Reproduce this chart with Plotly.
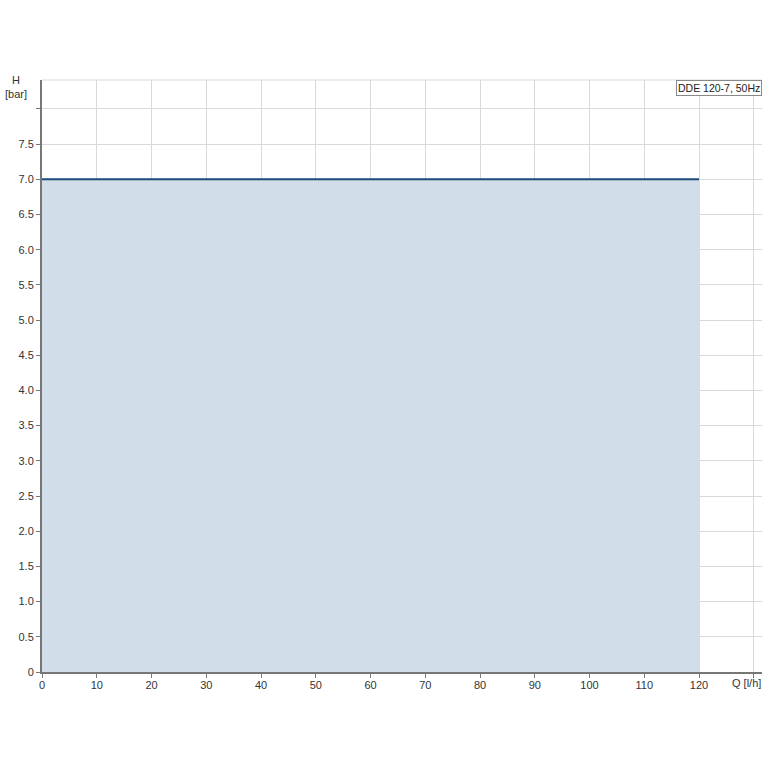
import plotly.graph_objects as go

# pump curve: flow Q [l/h] vs pressure H [bar]
flow_lh = [0, 120]
head_bar = [7.0, 7.0]
series_name = "DDE 120-7, 50Hz"

x_tick_vals = [0, 10, 20, 30, 40, 50, 60, 70, 80, 90, 100, 110, 120, 130]
x_tick_text = ["0", "10", "20", "30", "40", "50", "60", "70", "80", "90",
               "100", "110", "120", ""]
y_tick_vals = [0, 0.5, 1.0, 1.5, 2.0, 2.5, 3.0, 3.5, 4.0, 4.5, 5.0, 5.5,
               6.0, 6.5, 7.0, 7.5, 8.0]
y_tick_text = ["0", "0.5", "1.0", "1.5", "2.0", "2.5", "3.0", "3.5", "4.0",
               "4.5", "5.0", "5.5", "6.0", "6.5", "7.0", "7.5", ""]
x_unit_label = "Q [l/h]"
y_unit_label = "H<br>[bar]"

fig = go.Figure()
fig.add_trace(
    go.Scatter(
        x=flow_lh,
        y=head_bar,
        mode="lines",
        name=series_name,
        line=dict(color="#1d4c7c", width=2),
        fill="tozeroy",
        fillcolor="rgb(209,221,232)",
    )
)

axis_style = dict(
    showgrid=True,
    gridcolor="#d9d9d9",
    gridwidth=1,
    zeroline=False,
    showline=True,
    linecolor="#777",
    linewidth=2,
    ticks="outside",
    ticklen=4,
    tickcolor="#777",
    automargin=False,
    tickfont=dict(size=11, color="#333"),
)

fig.update_layout(
    width=766,
    height=766,
    margin=dict(l=42, r=4, t=80, b=94),
    paper_bgcolor="white",
    plot_bgcolor="white",
    showlegend=False,
    font=dict(family="Liberation Sans, Arial, sans-serif", size=11, color="#333"),
    xaxis=dict(range=[0, 131.5], tickvals=x_tick_vals, ticktext=x_tick_text,
               ticklabelstandoff=-2, **axis_style),
    yaxis=dict(range=[0, 8.41], tickvals=y_tick_vals, ticktext=y_tick_text,
               **axis_style),
    shapes=[
        dict(type="line", xref="paper", yref="paper", x0=0, x1=1, y0=1, y1=1,
             line=dict(color="#d9d9d9", width=1)),
    ],
    annotations=[
        dict(text=y_unit_label, xref="paper", yref="paper", x=0, y=1,
             xanchor="right", yanchor="bottom", xshift=-13, yshift=-22,
             showarrow=False, align="center", font=dict(size=11, color="#333")),
        dict(text=x_unit_label, x=130, xref="x", yref="paper", y=0,
             xanchor="center", yanchor="top", xshift=-7, yshift=-3,
             showarrow=False, font=dict(size=11, color="#333")),
        dict(text=series_name, xref="paper", yref="paper", x=1, y=1,
             xanchor="right", yanchor="top", showarrow=False,
             bgcolor="white", bordercolor="#888", borderwidth=1, borderpad=1,
             font=dict(size=10.5, color="#222")),
    ],
)

# drop the browser's default body margin so the figure sits at the window corner
fig.write_html(
    "out.html",
    config={"displayModeBar": False},
    post_script="document.body.style.margin='0';document.body.style.overflow='hidden';",
)
